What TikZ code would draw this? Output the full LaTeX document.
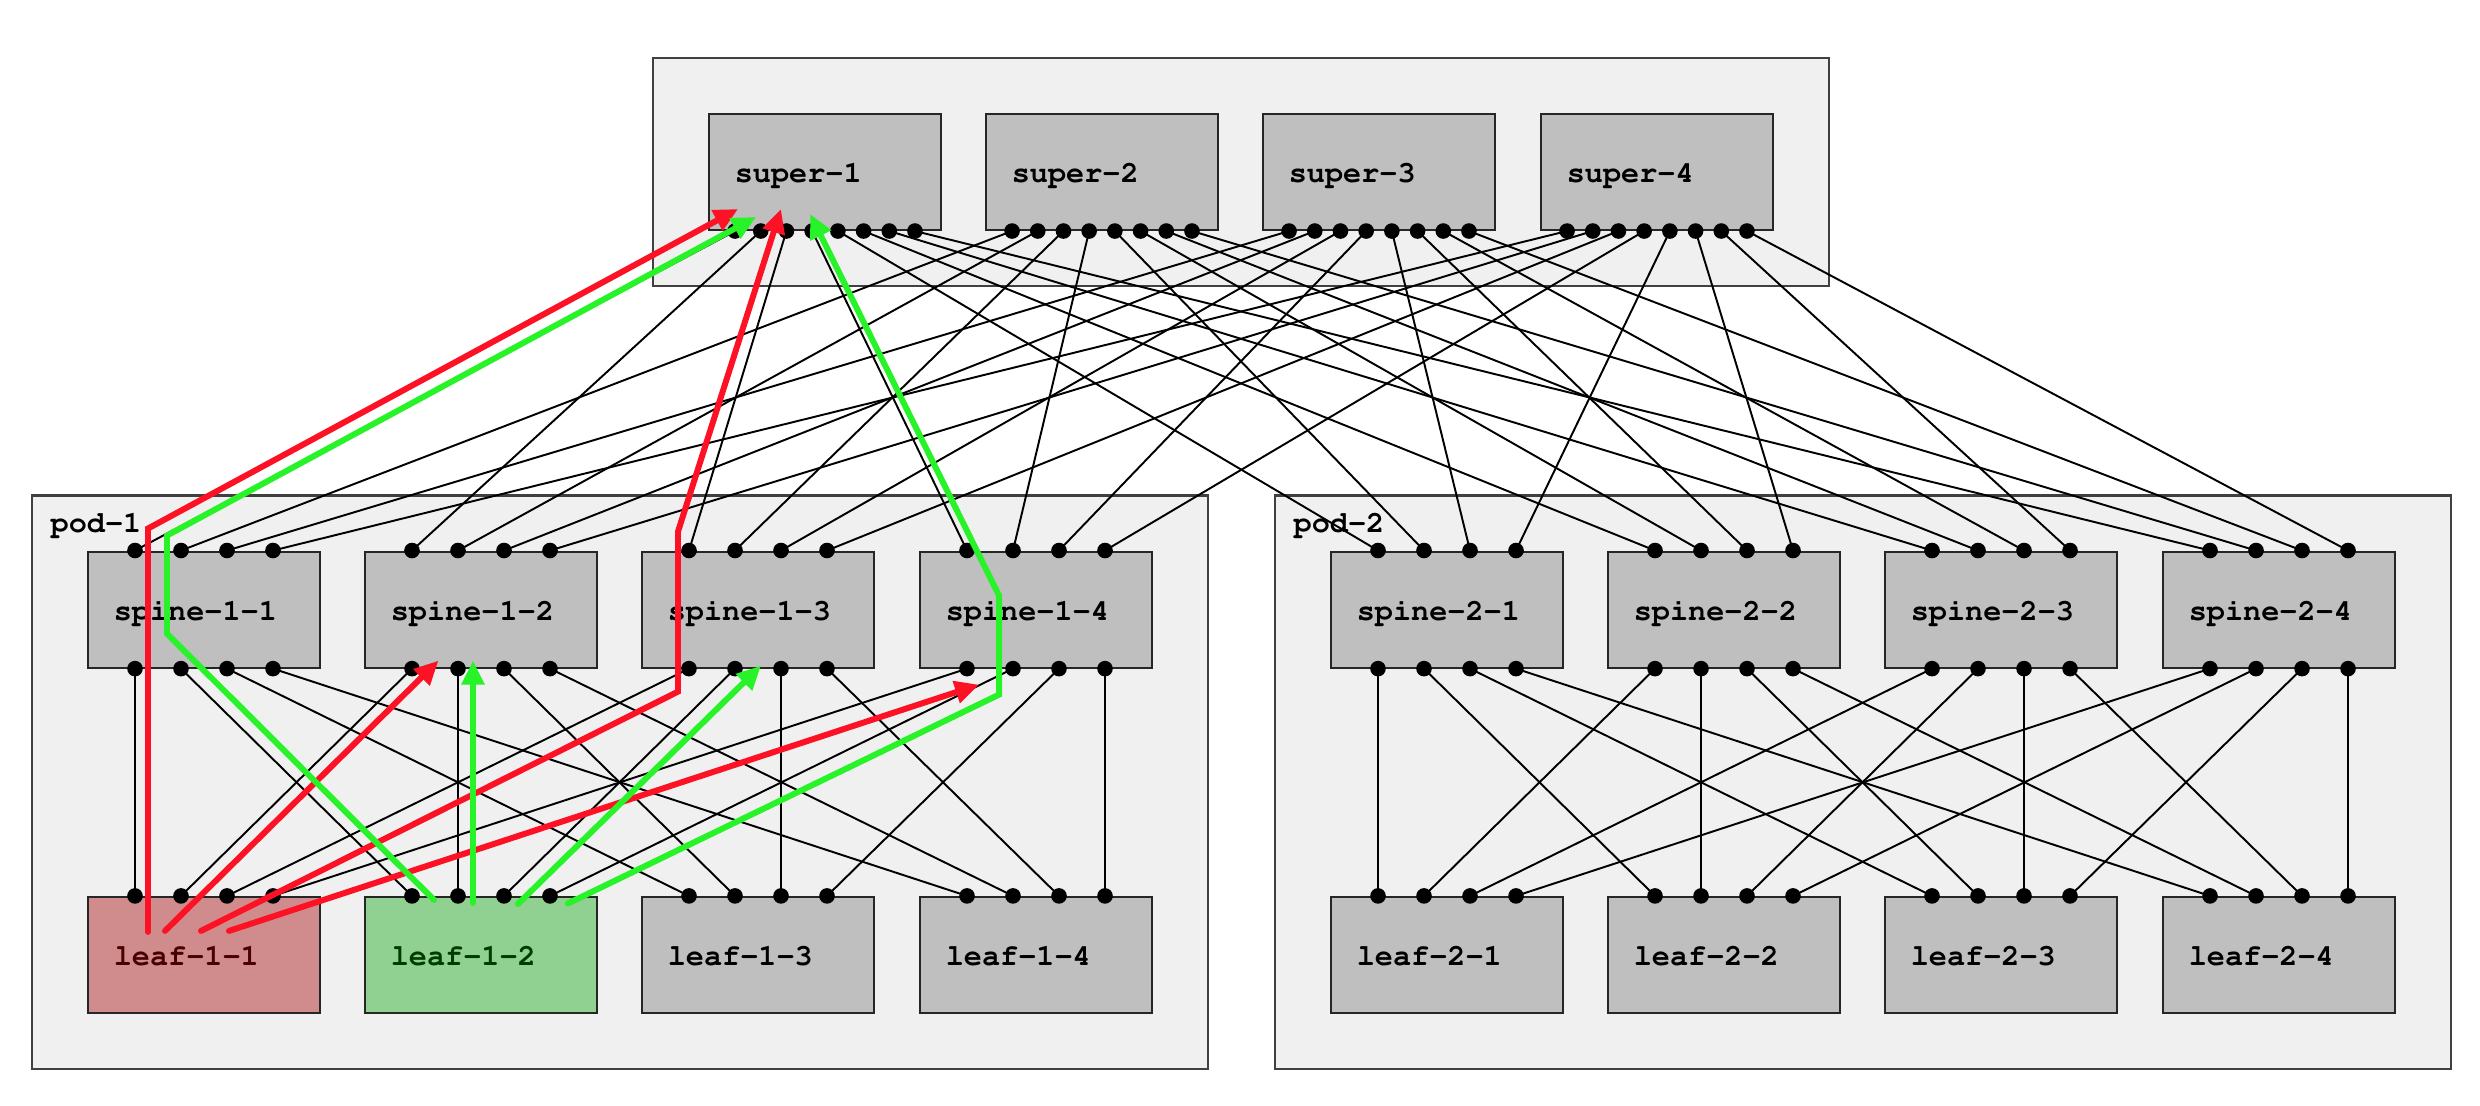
\documentclass[tikz,border=0pt]{standalone}
\usepackage[T1,TU]{fontenc}
\usepackage{tikz}
\usetikzlibrary{calc,fit,backgrounds,arrows.meta}
\newcommand\netfont{\fontencoding{T1}\fontfamily{pcr}\fontseries{b}\fontshape{n}\fontsize{8.6}{10}\selectfont}
\definecolor{pathred}{RGB}{252,18,36}
\definecolor{pathgreen}{RGB}{40,242,40}
\definecolor{leafred}{RGB}{208,140,140}
\definecolor{leafredtext}{RGB}{75,0,0}
\definecolor{leafgreen}{RGB}{144,208,144}
\definecolor{leafgreentext}{RGB}{0,60,0}

\begin{document}
\begin{tikzpicture}[link/.style={draw=black, line width=0.55pt},
            box node/.style={rectangle, draw=black!85, line width=0.6pt, fill=gray!50,
              minimum width=2.315cm, minimum height=1.16cm, inner xsep=0.255cm,
              text width=1.805cm, text height=0.27cm, text depth=0.05cm, align=left,
              font=\netfont},
            group node/.style={rectangle, draw=black!75, line width=0.7pt, fill=black!6, inner sep=0.55cm},
            group label/.style={anchor=base west, inner sep=0pt, font=\netfont},
            red path/.style={draw=pathred, line width=1.7pt, line cap=round,
              -{Triangle[length=0.24cm,width=0.22cm]}},
            green path/.style={red path, draw=pathgreen}]

        \useasboundingbox (0,0) rectangle (24.8,11.06);

        \node[box node] (S1) at (8.25,9.34) {super-1};
        \node[box node] (S2) at (11.02,9.34) {super-2};
        \node[box node] (S3) at (13.79,9.34) {super-3};
        \node[box node] (S4) at (16.57,9.34) {super-4};

        \node[box node] (P11) at (2.04,4.964) {spine-1-1};
        \node[box node] (P12) at (4.81,4.964) {spine-1-2};
        \node[box node] (P13) at (7.58,4.964) {spine-1-3};
        \node[box node] (P14) at (10.36,4.964) {spine-1-4};
        \node[box node] (P21) at (14.47,4.964) {spine-2-1};
        \node[box node] (P22) at (17.24,4.964) {spine-2-2};
        \node[box node] (P23) at (20.01,4.964) {spine-2-3};
        \node[box node] (P24) at (22.79,4.964) {spine-2-4};

        \node[box node, fill=leafred, text=leafredtext] (L11) at (2.04,1.51) {leaf-1-1};
        \node[box node, fill=leafgreen, text=leafgreentext] (L12) at (4.81,1.51) {leaf-1-2};
        \node[box node] (L13) at (7.58,1.51) {leaf-1-3};
        \node[box node] (L14) at (10.36,1.51) {leaf-1-4};
        \node[box node] (L21) at (14.47,1.51) {leaf-2-1};
        \node[box node] (L22) at (17.24,1.51) {leaf-2-2};
        \node[box node] (L23) at (20.01,1.51) {leaf-2-3};
        \node[box node] (L24) at (22.79,1.51) {leaf-2-4};

        \begin{scope}[on background layer]
        \node[group node, fit=(S1)(S4)] (SG) {};
        \node[group node, fit=(P11)(L14)] (G1) {};
        \node[group node, fit=(P21)(L24)] (G2) {};
        \end{scope}
        \node[group label] (T1) at ($(G1.north west)+(0.19,-0.38)$) {pod-1};
        \node[group label] (T2) at ($(G2.north west)+(0.19,-0.38)$) {pod-2};

        \foreach \k in {1,...,4} {
          \foreach \m in {1,...,8} {
            \coordinate (S\k-\m) at ($(S\k.south)+({(\m-4.5)*0.257},0)$);
          }
        }
        \foreach \p in {1,2} {
          \foreach \j in {1,...,4} {
            \foreach \i in {1,...,4} {
              \coordinate (P\p\j-t\i) at ($(P\p\j.north)+({(\i-2.5)*0.46},0)$);
              \coordinate (P\p\j-b\i) at ($(P\p\j.south)+({(\i-2.5)*0.46},0)$);
              \coordinate (L\p\j-\i) at ($(L\p\j.north)+({(\i-2.5)*0.46},0)$);
            }
          }
        }

        \foreach \p in {1,2} {
          \foreach \j in {1,...,4} {
            \pgfmathtruncatemacro{\m}{4*(\p-1)+\j}
            \foreach \i in {1,...,4} {
              \draw[link] (S\i-\m) -- (P\p\j-t\i);
              \draw[link] (P\p\j-b\i) -- (L\p\i-\j);
            }
          }
        }

        \foreach \k in {1,...,4} {
          \foreach \m in {1,...,8} {
            \fill (S\k-\m) circle (0.078);
          }
        }
        \foreach \p in {1,2} {
          \foreach \j in {1,...,4} {
            \foreach \i in {1,...,4} {
              \fill (P\p\j-t\i) circle (0.078);
              \fill (P\p\j-b\i) circle (0.078);
              \fill (L\p\j-\i) circle (0.078);
            }
          }
        }

        \draw[red path] ($(L11-1)+(0.13,-0.36)$) -- ($(P11-t1)+(0.13,0.22)$) -- ($(S1-1)+(0.03,0.22)$);
        \draw[red path] ($(L11-1)+(0.30,-0.35)$) -- ($(P12-b1)+(0.265,0.08)$);
        \draw[red path] ($(L11-2)+(0.20,-0.35)$) -- ($(P13-b1)+(-0.11,-0.23)$)
            -- ($(P13-t1)+(-0.11,0.19)$) -- ($(S1-3)+(-0.055,0.22)$);
        \draw[red path] ($(L11-3)+(0.02,-0.35)$) -- ($(P14-b1)+(0.12,-0.16)$);

        \draw[green path] ($(L12-1)+(0.22,-0.04)$) -- ($(P11-b1)+(0.32,0.35)$)
            -- ($(P11-t1)+(0.32,0.15)$) -- ($(S1-1)+(0.21,0.14)$);
        \draw[green path] ($(L12-2)+(0.15,-0.07)$) -- ($(P12-b2)+(0.15,0.08)$);
        \draw[green path] ($(L12-3)+(0.14,-0.08)$) -- ($(P13-b2)+(0.26,0.03)$);
        \draw[green path] ($(L12-4)+(0.18,-0.075)$) -- ($(P14-b2)+(-0.14,-0.26)$)
            -- ($(P14-t2)+(-0.14,-0.45)$) -- ($(S1-4)+(-0.02,0.17)$);

    \end{tikzpicture}
\end{document}
